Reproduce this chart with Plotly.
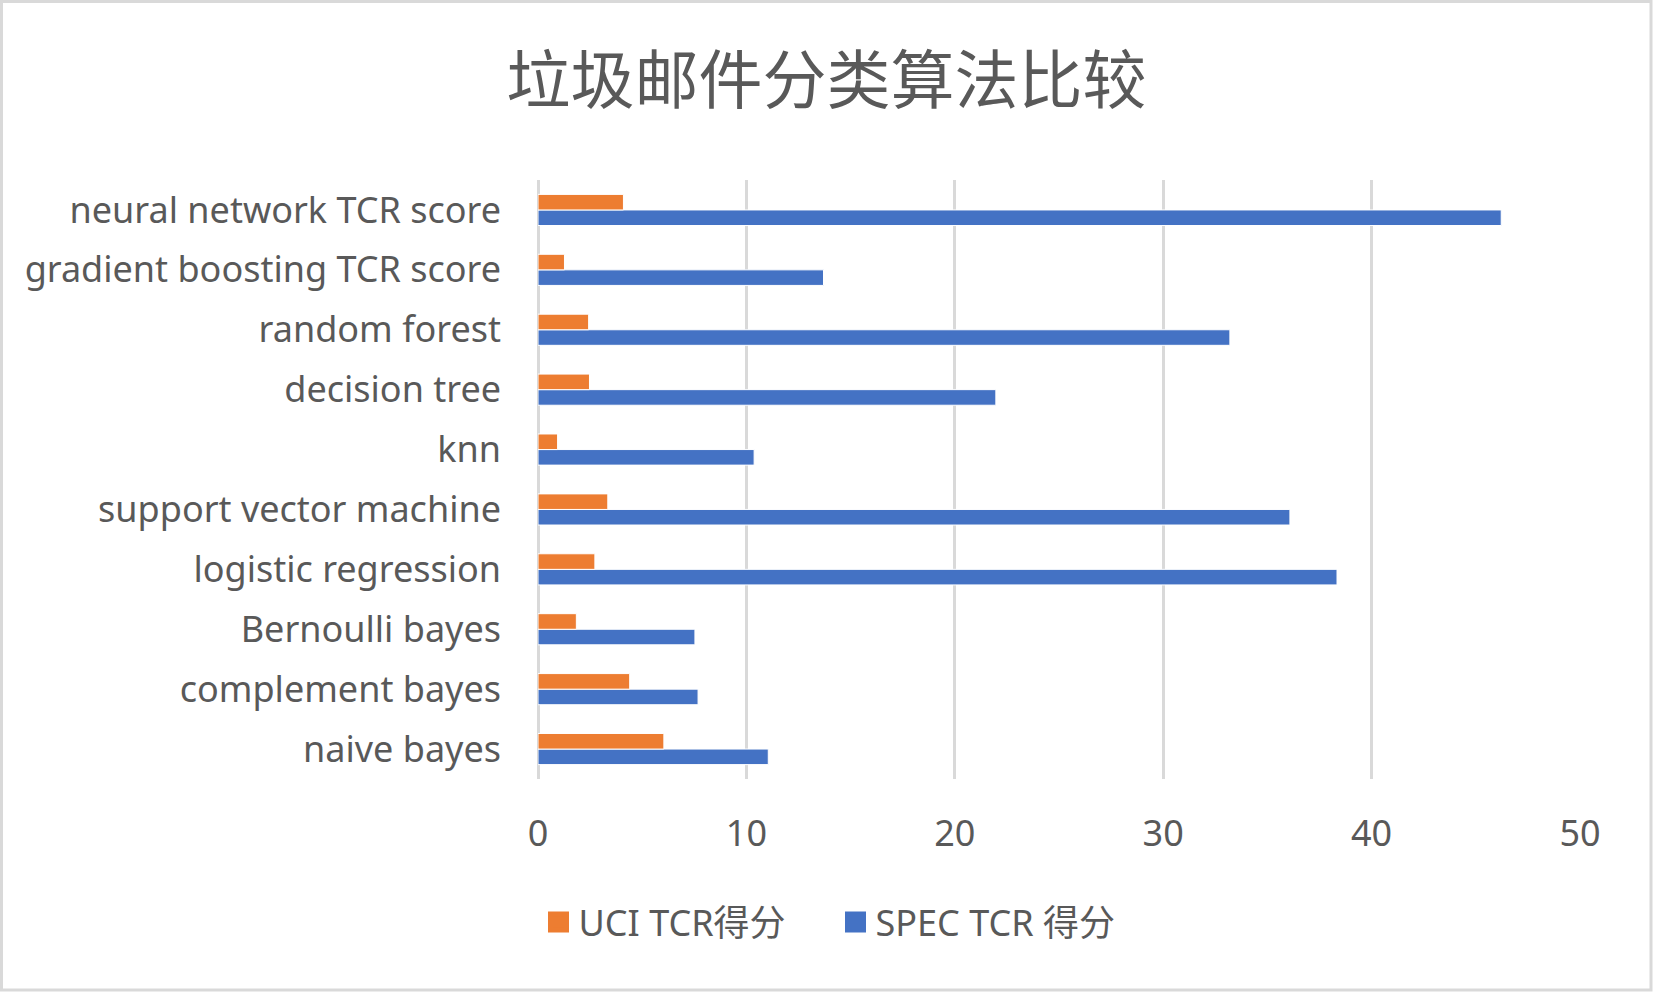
import plotly.graph_objs as go

# categories listed bottom -> top, as Excel draws them
categories = ['naive bayes', 'complement bayes', 'Bernoulli bayes', 'logistic regression',
              'support vector machine', 'knn', 'decision tree', 'random forest',
              'gradient boosting TCR score', 'neural network TCR score']
uci_tcr = [6.04, 4.40, 1.84, 2.73, 3.35, 0.94, 2.47, 2.43, 1.27, 4.10]
spec_tcr = [11.05, 7.68, 7.53, 38.34, 36.08, 10.37, 21.97, 33.2, 13.7, 46.22]
x_ticks = [0, 10, 20, 30, 40, 50]

title_text = '垃圾邮件分类算法比较'
uci_name = 'UCI TCR得分'
spec_name = 'SPEC TCR 得分'

W, H = 1653, 992
L, R, T, B = 538, 73, 180, 213
font_family = 'Noto Sans, Noto Sans CJK SC, sans-serif'
text_color = '#595959'
grid_color = '#d9d9d9'
orange = '#ED7D31'
blue = '#4472C4'

# blue trace first so the orange bar sits on top within each group
figure_data = [
    go.Bar(y=categories, x=spec_tcr, name=spec_name, orientation='h', showlegend=False,
           marker=dict(color=blue, line=dict(color='white', width=1))),
    go.Bar(y=categories, x=uci_tcr, name=uci_name, orientation='h', showlegend=False,
           marker=dict(color=orange, line=dict(color='white', width=1))),
]

# legend entries with bigger square swatches than the bar legend gives
for name, color, rank in [(uci_name, orange, 1), (spec_name, blue, 2)]:
    figure_data.append(go.Scatter(x=[None], y=[None], mode='markers', name=name, legendrank=rank,
                                  marker=dict(symbol='square', size=16, color=color,
                                              line=dict(color=color, width=5))))

layout = go.Layout(
    width=W, height=H,
    margin=dict(l=L, r=R, t=T, b=B),
    paper_bgcolor='white', plot_bgcolor='white',
    font=dict(family=font_family, size=36, color=text_color),
    title=dict(text=title_text, x=0.5, xref='container', y=1 - 81 / H, yref='container',
               xanchor='center', yanchor='middle',
               font=dict(family='Noto Sans CJK SC, sans-serif', size=64, color=text_color)),
    barmode='group', bargap=0.48, bargroupgap=0,
    xaxis=dict(range=[0, 50], tickvals=x_ticks, showgrid=True, gridcolor=grid_color, gridwidth=2.5,
               zeroline=True, zerolinecolor=grid_color, zerolinewidth=2.5, showline=False,
               ticks='', ticklabelstandoff=30, tickfont=dict(size=36)),
    yaxis=dict(type='category', showgrid=False, zeroline=False, showline=False,
               ticks='', ticklabelstandoff=36, tickfont=dict(size=36)),
    legend=dict(orientation='h', xref='container', yref='container', x=(557.5 - 19) / W, y=1 - 922 / H,
                xanchor='left', yanchor='middle', font=dict(size=36), itemwidth=30,
                itemsizing='trace', entrywidth=252, entrywidthmode='pixels',
                bgcolor='rgba(0,0,0,0)'),
    shapes=[dict(type='rect', xref='paper', yref='paper',
                 x0=(1.5 - L) / (W - L - R), x1=(W - 2 - L) / (W - L - R),
                 y0=-(B - 2) / (H - T - B), y1=1 + (T - 1.5) / (H - T - B),
                 line=dict(color=grid_color, width=3), fillcolor='rgba(0,0,0,0)', layer='below')],
)

fig = go.Figure(data=figure_data, layout=layout)
# the page body has an 8px default margin; drop it so the chart fills the window like the original
fig.write_html('out.html', config={'displayModeBar': False},
               post_script="document.body.style.margin='0';document.body.style.overflow='hidden';")
